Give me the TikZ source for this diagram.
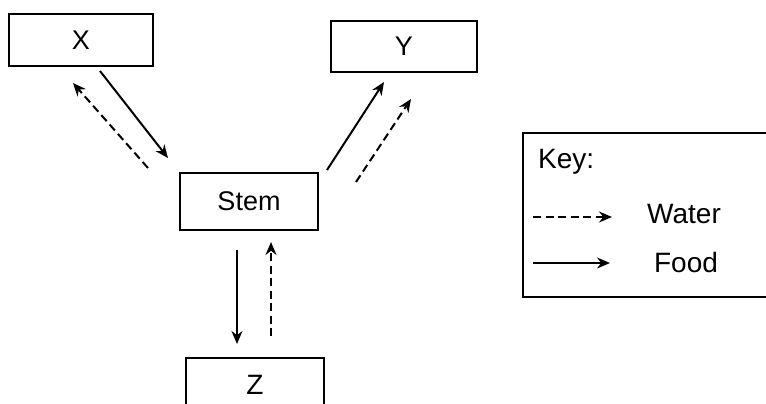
\documentclass[tikz,border=0pt]{standalone}
\usepackage{fontspec}
\setmainfont{Liberation Sans}
\usetikzlibrary{arrows.meta}
\begin{document}
\begin{tikzpicture}[x=1pt,y=-1pt,
  box/.style={draw,line width=2.2pt,minimum width=#1,inner sep=0pt,font=\fontsize{27}{30}\selectfont},
  food/.style={line width=2pt,-{Stealth[length=13pt,width=11pt]}},
  water/.style={line width=2pt,dash pattern=on 8pt off 4.5pt,-{Stealth[length=13pt,width=11pt]}},
  lbl/.style={font=\fontsize{28}{30}\selectfont,inner sep=0pt}]
\useasboundingbox (0,0) rectangle (766,404);
\node[box=144pt,minimum height=52pt] (X) at (81,40) {X};
\node[box=146pt,minimum height=51pt] (Y) at (404,46.5) {Y};
\node[box=138pt,minimum height=57pt] (S) at (249,201.5) {Stem};
\draw[line width=2.2pt] (186,404) -- (186,358) -- (324,358) -- (324,404);
\node[lbl] (Z) at (255,385) {Z};
% key
\draw[line width=2.2pt] (766,133) -- (523,133) -- (523,297) -- (766,297);
\node[lbl,anchor=base west] (K) at (538,168) {Key:};
\node[lbl] (W) at (684,214) {Water};
\node[lbl] (F) at (686,262) {Food};
\coordinate (w1) at (533,217); \coordinate (w2) at (612,217);
\coordinate (f1) at (533,263); \coordinate (f2) at (610,263);
\draw[water] (w1) -- (w2);
\draw[food] (f1) -- (f2);
% arrows
\coordinate (a1) at (100,71); \coordinate (a2) at (168,158);
\coordinate (b1) at (148,168); \coordinate (b2) at (73,83);
\coordinate (c1) at (327,170); \coordinate (c2) at (384,82);
\coordinate (d1) at (356,182); \coordinate (d2) at (411,99);
\coordinate (e1) at (237,250); \coordinate (e2) at (237,344);
\coordinate (g1) at (271,336); \coordinate (g2) at (271,242);
\draw[food] (a1) -- (a2);
\draw[water] (b1) -- (b2);
\draw[food] (c1) -- (c2);
\draw[water] (d1) -- (d2);
\draw[food] (e1) -- (e2);
\draw[water] (g1) -- (g2);
\end{tikzpicture}
\end{document}
